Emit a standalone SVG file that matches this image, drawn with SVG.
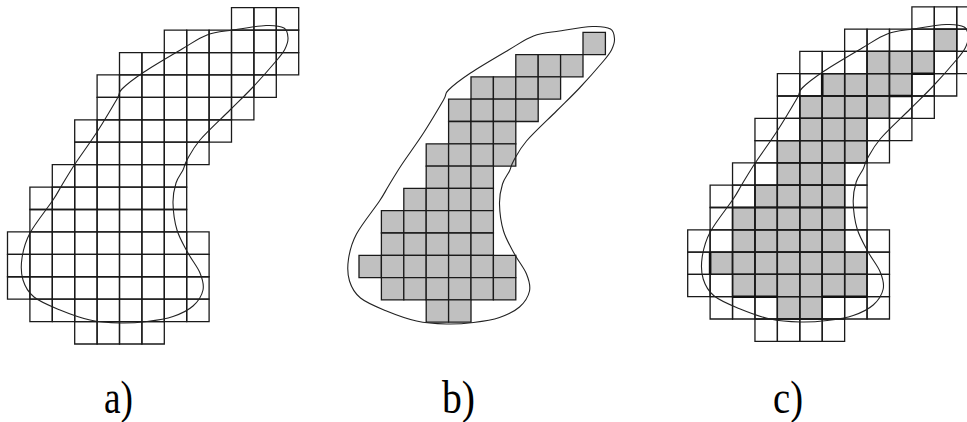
<svg xmlns="http://www.w3.org/2000/svg" xmlns:xlink="http://www.w3.org/1999/xlink" width="967" height="422" viewBox="0 0 967 422">
<style>
.cell{fill:none;stroke:#1a1a1a;stroke-width:1.3;vector-effect:non-scaling-stroke}
.gray{fill:#c0c0c0;stroke:#1a1a1a;stroke-width:1.3;vector-effect:non-scaling-stroke}
.thick{fill:none;stroke:#111;stroke-width:2.6;vector-effect:non-scaling-stroke}
.blob{fill:none;stroke:#222;stroke-width:1.1}
.lbl{font-family:"Liberation Serif","Times New Roman",serif;font-size:46px;fill:#000}
</style>
<defs>
<path id="blob" d="M266,25.5 C257.5,25.83 242.83,28.42 233,30 S215.5,31.83 207,35 S192.5,42.83 182,49 S154,65.33 144,72 S126.5,84.5 122,89 S121.17,91.83 117,99 S104,121.17 97,132 S80.83,155.17 75,164 S65.67,179 62,185 S58.33,192 53,200 S35.17,223.33 30,233 S23.17,250.17 22,258 S21,273.5 23,280 S27.83,292 34,297 S50.67,306.17 60,310 S80,317.83 90,320 S110.5,322.75 120,323 S138.17,322.58 147,321.5 S165.33,319.08 173,316.5 S188,310.42 193,306 S201.83,295.5 203,290 S202.5,279.17 200,273 S191.83,260.17 188,253 S179.5,238.33 177,230 S173.17,210.83 173,203 S174.33,188.5 176,183 S181.17,173.83 183,170 S184.17,165 187,160 S192.83,148.33 200,140 S221.17,118.83 230,110 S245.17,95.33 253,87 S271.67,66.33 277,60 S283.17,52.67 285,49 S288.17,41.5 288,38 S287.67,30.08 284,28 S274.5,25.17 266,25.5 Z"/>
<g id="grid">
<rect class="cell" x="10" y="0" width="1" height="1"/><rect class="cell" x="11" y="0" width="1" height="1"/><rect class="cell" x="12" y="0" width="1" height="1"/>
<rect class="cell" x="7" y="1" width="1" height="1"/><rect class="cell" x="8" y="1" width="1" height="1"/><rect class="cell" x="9" y="1" width="1" height="1"/><rect class="cell" x="10" y="1" width="1" height="1"/><rect class="cell" x="11" y="1" width="1" height="1"/><rect class="cell" x="12" y="1" width="1" height="1"/>
<rect class="cell" x="5" y="2" width="1" height="1"/><rect class="cell" x="6" y="2" width="1" height="1"/><rect class="cell" x="7" y="2" width="1" height="1"/><rect class="cell" x="8" y="2" width="1" height="1"/><rect class="cell" x="9" y="2" width="1" height="1"/><rect class="cell" x="10" y="2" width="1" height="1"/><rect class="cell" x="11" y="2" width="1" height="1"/><rect class="cell" x="12" y="2" width="1" height="1"/>
<rect class="cell" x="4" y="3" width="1" height="1"/><rect class="cell" x="5" y="3" width="1" height="1"/><rect class="cell" x="6" y="3" width="1" height="1"/><rect class="cell" x="7" y="3" width="1" height="1"/><rect class="cell" x="8" y="3" width="1" height="1"/><rect class="cell" x="9" y="3" width="1" height="1"/><rect class="cell" x="10" y="3" width="1" height="1"/><rect class="cell" x="11" y="3" width="1" height="1"/>
<rect class="cell" x="4" y="4" width="1" height="1"/><rect class="cell" x="5" y="4" width="1" height="1"/><rect class="cell" x="6" y="4" width="1" height="1"/><rect class="cell" x="7" y="4" width="1" height="1"/><rect class="cell" x="8" y="4" width="1" height="1"/><rect class="cell" x="9" y="4" width="1" height="1"/><rect class="cell" x="10" y="4" width="1" height="1"/>
<rect class="cell" x="3" y="5" width="1" height="1"/><rect class="cell" x="4" y="5" width="1" height="1"/><rect class="cell" x="5" y="5" width="1" height="1"/><rect class="cell" x="6" y="5" width="1" height="1"/><rect class="cell" x="7" y="5" width="1" height="1"/><rect class="cell" x="8" y="5" width="1" height="1"/><rect class="cell" x="9" y="5" width="1" height="1"/>
<rect class="cell" x="3" y="6" width="1" height="1"/><rect class="cell" x="4" y="6" width="1" height="1"/><rect class="cell" x="5" y="6" width="1" height="1"/><rect class="cell" x="6" y="6" width="1" height="1"/><rect class="cell" x="7" y="6" width="1" height="1"/><rect class="cell" x="8" y="6" width="1" height="1"/>
<rect class="cell" x="2" y="7" width="1" height="1"/><rect class="cell" x="3" y="7" width="1" height="1"/><rect class="cell" x="4" y="7" width="1" height="1"/><rect class="cell" x="5" y="7" width="1" height="1"/><rect class="cell" x="6" y="7" width="1" height="1"/><rect class="cell" x="7" y="7" width="1" height="1"/>
<rect class="cell" x="1" y="8" width="1" height="1"/><rect class="cell" x="2" y="8" width="1" height="1"/><rect class="cell" x="3" y="8" width="1" height="1"/><rect class="cell" x="4" y="8" width="1" height="1"/><rect class="cell" x="5" y="8" width="1" height="1"/><rect class="cell" x="6" y="8" width="1" height="1"/><rect class="cell" x="7" y="8" width="1" height="1"/>
<rect class="cell" x="1" y="9" width="1" height="1"/><rect class="cell" x="2" y="9" width="1" height="1"/><rect class="cell" x="3" y="9" width="1" height="1"/><rect class="cell" x="4" y="9" width="1" height="1"/><rect class="cell" x="5" y="9" width="1" height="1"/><rect class="cell" x="6" y="9" width="1" height="1"/><rect class="cell" x="7" y="9" width="1" height="1"/>
<rect class="cell" x="0" y="10" width="1" height="1"/><rect class="cell" x="1" y="10" width="1" height="1"/><rect class="cell" x="2" y="10" width="1" height="1"/><rect class="cell" x="3" y="10" width="1" height="1"/><rect class="cell" x="4" y="10" width="1" height="1"/><rect class="cell" x="5" y="10" width="1" height="1"/><rect class="cell" x="6" y="10" width="1" height="1"/><rect class="cell" x="7" y="10" width="1" height="1"/><rect class="cell" x="8" y="10" width="1" height="1"/>
<rect class="cell" x="0" y="11" width="1" height="1"/><rect class="cell" x="1" y="11" width="1" height="1"/><rect class="cell" x="2" y="11" width="1" height="1"/><rect class="cell" x="3" y="11" width="1" height="1"/><rect class="cell" x="4" y="11" width="1" height="1"/><rect class="cell" x="5" y="11" width="1" height="1"/><rect class="cell" x="6" y="11" width="1" height="1"/><rect class="cell" x="7" y="11" width="1" height="1"/><rect class="cell" x="8" y="11" width="1" height="1"/>
<rect class="cell" x="0" y="12" width="1" height="1"/><rect class="cell" x="1" y="12" width="1" height="1"/><rect class="cell" x="2" y="12" width="1" height="1"/><rect class="cell" x="3" y="12" width="1" height="1"/><rect class="cell" x="4" y="12" width="1" height="1"/><rect class="cell" x="5" y="12" width="1" height="1"/><rect class="cell" x="6" y="12" width="1" height="1"/><rect class="cell" x="7" y="12" width="1" height="1"/><rect class="cell" x="8" y="12" width="1" height="1"/>
<rect class="cell" x="1" y="13" width="1" height="1"/><rect class="cell" x="2" y="13" width="1" height="1"/><rect class="cell" x="3" y="13" width="1" height="1"/><rect class="cell" x="4" y="13" width="1" height="1"/><rect class="cell" x="5" y="13" width="1" height="1"/><rect class="cell" x="6" y="13" width="1" height="1"/><rect class="cell" x="7" y="13" width="1" height="1"/><rect class="cell" x="8" y="13" width="1" height="1"/>
<rect class="cell" x="3" y="14" width="1" height="1"/><rect class="cell" x="4" y="14" width="1" height="1"/><rect class="cell" x="5" y="14" width="1" height="1"/><rect class="cell" x="6" y="14" width="1" height="1"/>
</g>
<g id="fill">
<rect class="gray" x="10" y="1" width="1" height="1"/>
<rect class="gray" x="7" y="2" width="1" height="1"/><rect class="gray" x="8" y="2" width="1" height="1"/><rect class="gray" x="9" y="2" width="1" height="1"/>
<rect class="gray" x="5" y="3" width="1" height="1"/><rect class="gray" x="6" y="3" width="1" height="1"/><rect class="gray" x="7" y="3" width="1" height="1"/><rect class="gray" x="8" y="3" width="1" height="1"/>
<rect class="gray" x="4" y="4" width="1" height="1"/><rect class="gray" x="5" y="4" width="1" height="1"/><rect class="gray" x="6" y="4" width="1" height="1"/><rect class="gray" x="7" y="4" width="1" height="1"/>
<rect class="gray" x="4" y="5" width="1" height="1"/><rect class="gray" x="5" y="5" width="1" height="1"/><rect class="gray" x="6" y="5" width="1" height="1"/>
<rect class="gray" x="3" y="6" width="1" height="1"/><rect class="gray" x="4" y="6" width="1" height="1"/><rect class="gray" x="5" y="6" width="1" height="1"/><rect class="gray" x="6" y="6" width="1" height="1"/>
<rect class="gray" x="3" y="7" width="1" height="1"/><rect class="gray" x="4" y="7" width="1" height="1"/><rect class="gray" x="5" y="7" width="1" height="1"/>
<rect class="gray" x="2" y="8" width="1" height="1"/><rect class="gray" x="3" y="8" width="1" height="1"/><rect class="gray" x="4" y="8" width="1" height="1"/><rect class="gray" x="5" y="8" width="1" height="1"/>
<rect class="gray" x="1" y="9" width="1" height="1"/><rect class="gray" x="2" y="9" width="1" height="1"/><rect class="gray" x="3" y="9" width="1" height="1"/><rect class="gray" x="4" y="9" width="1" height="1"/><rect class="gray" x="5" y="9" width="1" height="1"/>
<rect class="gray" x="1" y="10" width="1" height="1"/><rect class="gray" x="2" y="10" width="1" height="1"/><rect class="gray" x="3" y="10" width="1" height="1"/><rect class="gray" x="4" y="10" width="1" height="1"/><rect class="gray" x="5" y="10" width="1" height="1"/>
<rect class="gray" x="0" y="11" width="1" height="1"/><rect class="gray" x="1" y="11" width="1" height="1"/><rect class="gray" x="2" y="11" width="1" height="1"/><rect class="gray" x="3" y="11" width="1" height="1"/><rect class="gray" x="4" y="11" width="1" height="1"/><rect class="gray" x="5" y="11" width="1" height="1"/><rect class="gray" x="6" y="11" width="1" height="1"/>
<rect class="gray" x="1" y="12" width="1" height="1"/><rect class="gray" x="2" y="12" width="1" height="1"/><rect class="gray" x="3" y="12" width="1" height="1"/><rect class="gray" x="4" y="12" width="1" height="1"/><rect class="gray" x="5" y="12" width="1" height="1"/><rect class="gray" x="6" y="12" width="1" height="1"/>
<rect class="gray" x="3" y="13" width="1" height="1"/><rect class="gray" x="4" y="13" width="1" height="1"/>
</g>
</defs>
<rect width="967" height="422" fill="#fff"/>
<g id="panel-a">
<use xlink:href="#grid" href="#grid" transform="translate(7.5,7.7) scale(22.4,22.42)"/>
<use xlink:href="#blob" href="#blob" class="blob"/>
</g>
<g id="panel-b">
<use xlink:href="#fill" href="#fill" transform="translate(359,10) scale(22.4,22.3)"/>
<use xlink:href="#blob" href="#blob" class="blob" transform="translate(326.5,1)"/>
</g>
<g id="panel-c">
<use xlink:href="#fill" href="#fill" transform="translate(710.1,6.8) scale(22.42,22.3)"/>
<g transform="translate(687.7,6.8) scale(22.42,22.3)">
<use xlink:href="#grid" href="#grid"/>
<path class="thick" d="M6,3V4 M10,3H11 M9,4H10 M1,11V12 M2,13H4 M6,13H8"/>
</g>
<use xlink:href="#blob" href="#blob" class="blob" transform="translate(680.2,-1)"/>
</g>
<g id="labels">
<text class="lbl" x="104" y="413" textLength="29" lengthAdjust="spacingAndGlyphs">a)</text>
<text class="lbl" x="442" y="413" textLength="33" lengthAdjust="spacingAndGlyphs">b)</text>
<text class="lbl" x="773" y="413" textLength="30" lengthAdjust="spacingAndGlyphs">c)</text>
</g>
</svg>
